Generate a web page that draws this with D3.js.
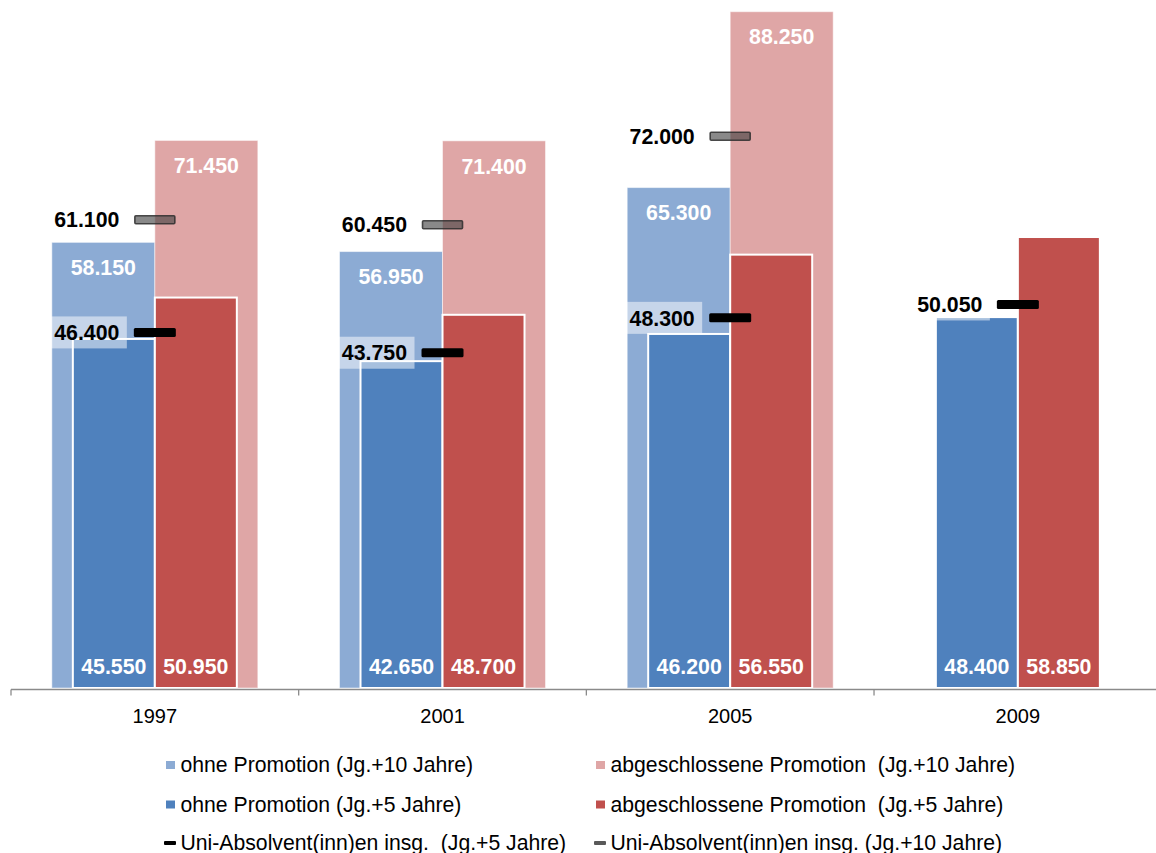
<!DOCTYPE html>
<html>
<head>
<meta charset="utf-8">
<script src="https://cdn.jsdelivr.net/npm/d3@7/dist/d3.min.js"></script>
<style>
  html, body { margin: 0; padding: 0; background: #fff; }
  svg { display: block; font-family: Arial, "Liberation Sans", sans-serif; }
  .legend text { white-space: pre; }
</style>
</head>
<body>
<svg id="chart" width="1156" height="853"></svg>
<script>
// Jahrgänge
const years = ["1997", "2001", "2005", "2009"];

// ohne Promotion / abgeschlossene Promotion, Jg.+10 Jahre
const ohne10 = [58150, 56950, 65300, null];
const abg10  = [71450, 71400, 88250, null];

// ohne Promotion / abgeschlossene Promotion, Jg.+5 Jahre
const ohne5 = [45550, 42650, 46200, 48400];
const abg5  = [50950, 48700, 56550, 58850];

// Uni-Absolvent(inn)en insgesamt
const uni5  = [46400, 43750, 48300, 50050];
const uni10 = [61100, 60450, 72000, null];

const legendLabels = [
  "ohne Promotion (Jg.+10 Jahre)",
  "abgeschlossene Promotion  (Jg.+10 Jahre)",
  "ohne Promotion (Jg.+5 Jahre)",
  "abgeschlossene Promotion  (Jg.+5 Jahre)",
  "Uni-Absolvent(inn)en insg.  (Jg.+5 Jahre)",
  "Uni-Absolvent(inn)en insg. (Jg.+10 Jahre)"
];

const C = {
  lightBlue: "#8cabd4",
  lightRed: "#dfa6a6",
  blue: "#4f81bd",
  red: "#c0504d"
};

const de = d3.formatLocale({ decimal: ",", thousands: ".", grouping: [3], currency: ["", " €"] });
const fmt = de.format(",");

const svg = d3.select("#chart");

const x = d3.scaleBand().domain(years).range([11, 1161.7]).padding(0);
const y = d3.scaleLinear().domain([0, 90000]).range([688, -1.7]);
const cx = d => x(d) + x.bandwidth() / 2;

const WIDE = 103, NARROW = 82;

function rows(values) {
  return years.map((yr, i) => ({ yr, v: values[i] })).filter(d => d.v != null);
}

// Hintere, breite Säulen (Jg.+10 Jahre)
const back = svg.append("g");
back.selectAll("rect.o10").data(rows(ohne10)).join("rect")
  .attr("x", d => cx(d.yr) - WIDE).attr("width", WIDE)
  .attr("y", d => y(d.v)).attr("height", d => y(0) - y(d.v))
  .attr("fill", C.lightBlue).attr("stroke", "#fff").attr("stroke-opacity", 0.5).attr("stroke-width", 1);
back.selectAll("rect.a10").data(rows(abg10)).join("rect")
  .attr("x", d => cx(d.yr)).attr("width", WIDE)
  .attr("y", d => y(d.v)).attr("height", d => y(0) - y(d.v))
  .attr("fill", C.lightRed).attr("stroke", "#fff").attr("stroke-opacity", 0.5).attr("stroke-width", 1);

// Vordere, schmale Säulen (Jg.+5 Jahre)
const front = svg.append("g");
front.selectAll("rect.o5").data(rows(ohne5)).join("rect")
  .attr("x", d => cx(d.yr) - NARROW).attr("width", NARROW)
  .attr("y", d => y(d.v)).attr("height", d => y(0) - y(d.v))
  .attr("fill", C.blue).attr("stroke", "#fff").attr("stroke-width", 2);
front.selectAll("rect.a5").data(rows(abg5)).join("rect")
  .attr("x", d => cx(d.yr)).attr("width", NARROW)
  .attr("y", d => y(d.v)).attr("height", d => y(0) - y(d.v))
  .attr("fill", C.red).attr("stroke", "#fff").attr("stroke-width", 2);

// Kategorieachse
const axisY = 689.5;
svg.append("line")
  .attr("x1", 11).attr("x2", 1156).attr("y1", axisY).attr("y2", axisY)
  .attr("stroke", "#8a8a8a").attr("stroke-width", 1.3);
svg.append("g").selectAll("line").data(years).join("line")
  .attr("x1", d => x(d)).attr("x2", d => x(d))
  .attr("y1", axisY).attr("y2", axisY + 6)
  .attr("stroke", "#8a8a8a").attr("stroke-width", 1.3);
const ax = svg.append("g").attr("transform", `translate(0,${axisY})`)
  .call(d3.axisBottom(x).tickSize(0).tickPadding(19));
ax.select(".domain").remove();
ax.selectAll("text").attr("font-size", 20).attr("fill", "#000")
  .attr("font-family", "Arial, 'Liberation Sans', sans-serif");

// Hinterlegung der Beschriftung für Jg.+5 Jahre insgesamt
svg.append("g").selectAll("rect").data(rows(uni5)).join("rect")
  .attr("x", d => cx(d.yr) - 104).attr("width", 76)
  .attr("y", d => y(d.v) - 16).attr("height", 32)
  .attr("fill", "#fff").attr("fill-opacity", 0.5);

// Markierungen insgesamt
const mk = svg.append("g");
mk.selectAll("rect.u10").data(rows(uni10)).join("rect")
  .attr("x", d => cx(d.yr) - 20).attr("width", 40)
  .attr("y", d => y(d.v) - 4).attr("height", 8).attr("rx", 1)
  .attr("fill", "#404040").attr("fill-opacity", 0.62)
  .attr("stroke", "#2e2e2e").attr("stroke-opacity", 0.85).attr("stroke-width", 1.6);
mk.selectAll("rect.u5").data(rows(uni5)).join("rect")
  .attr("x", d => cx(d.yr) - 21).attr("width", 42)
  .attr("y", d => y(d.v) - 4.5).attr("height", 9).attr("rx", 1.5)
  .attr("fill", "#000");

// Wertebeschriftungen
const lab = svg.append("g").attr("font-weight", "bold").attr("font-size", 21.3);

function whiteLabels(values, side, atTop, width) {
  lab.append("g").selectAll("text").data(rows(values)).join("text")
    .attr("x", d => cx(d.yr) + side * width / 2)
    .attr("y", d => atTop ? y(d.v) + 25 : y(0) - 22)
    .attr("dy", "0.36em")
    .attr("text-anchor", "middle").attr("fill", "#fff")
    .text(d => fmt(d.v));
}
whiteLabels(ohne10, -1, true, WIDE);
whiteLabels(abg10, 1, true, WIDE);
whiteLabels(ohne5, -1, false, NARROW);
whiteLabels(abg5, 1, false, NARROW);

function blackLabels(values) {
  lab.append("g").selectAll("text").data(rows(values)).join("text")
    .attr("x", d => cx(d.yr) - 35.5)
    .attr("y", d => y(d.v))
    .attr("dy", "0.36em")
    .attr("text-anchor", "end").attr("fill", "#000")
    .text(d => fmt(d.v));
}
blackLabels(uni10);
blackLabels(uni5);

// Legende
const legend = svg.append("g").attr("class", "legend").attr("font-size", 21.2).attr("fill", "#000");
const legendItems = [
  { label: legendLabels[0], kind: "sq", color: C.lightBlue },
  { label: legendLabels[1], kind: "sq", color: C.lightRed },
  { label: legendLabels[2], kind: "sq", color: C.blue },
  { label: legendLabels[3], kind: "sq", color: C.red },
  { label: legendLabels[4], kind: "dash", color: "#000" },
  { label: legendLabels[5], kind: "dash", color: "#595959" }
];
const colX = [166, 596];
const rowY = [765, 804.5, 843];
legendItems.forEach((it, i) => {
  const gx = colX[i % 2], gy = rowY[Math.floor(i / 2)];
  const g = legend.append("g").attr("transform", `translate(${gx},${gy})`);
  if (it.kind === "sq") {
    g.append("rect").attr("x", 0).attr("y", -4).attr("width", 9).attr("height", 8).attr("fill", it.color);
  } else {
    g.append("rect").attr("x", -2).attr("y", -2).attr("width", 12).attr("height", 4).attr("rx", 1).attr("fill", it.color);
  }
  g.append("text").attr("x", 14.5).attr("y", 0).attr("dy", "0.33em").text(it.label);
});
</script>
</body>
</html>
